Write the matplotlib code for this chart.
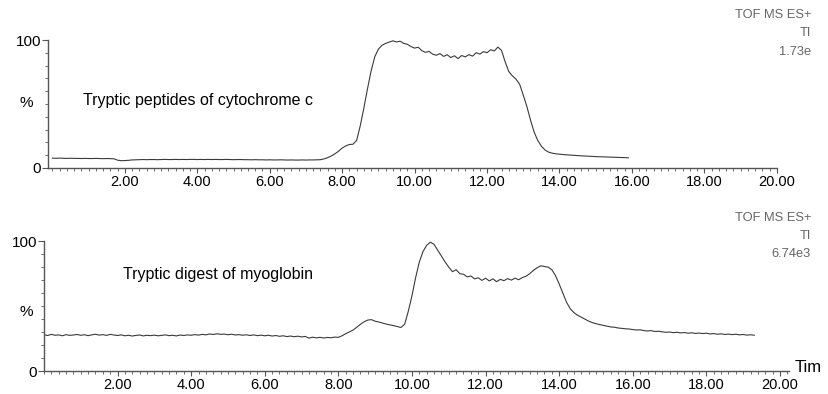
import matplotlib.pyplot as plt
import numpy as np
from matplotlib.ticker import MultipleLocator, FixedLocator

plt.rcParams['font.family'] = ['Liberation Sans', 'DejaVu Sans']

# cytochrome c trace, % of max, one value every 0.1 min from 0.0
cyt_pct = [
    7.6, 7.5, 7.6, 7.5, 7.4, 7.5, 7.4, 7.4, 7.3, 7.4, 7.3, 7.3, 7.4, 7.3, 7.2, 7.3, 7.2, 7.1,
    6.0, 5.6, 5.7, 5.9, 6.2, 6.3,
    6.4, 6.5, 6.4, 6.5, 6.5, 6.4, 6.5, 6.6, 6.5, 6.5,
    6.6, 6.5, 6.6, 6.5, 6.6, 6.6, 6.5, 6.6, 6.5, 6.6,
    6.5, 6.6, 6.5, 6.5, 6.6, 6.5, 6.4, 6.5, 6.5, 6.4,
    6.4, 6.3, 6.4, 6.3, 6.3, 6.2, 6.3, 6.2, 6.2, 6.3,
    6.2, 6.1, 6.2, 6.1, 6.1, 6.2, 6.1, 6.2, 6.2, 6.3,
    6.4, 7.0, 8.0, 9.3, 11.0, 13.0,
    15.5, 17.2, 18.3, 18.5, 21.5, 33.0, 47.0, 62.0, 76.0, 87.0,
    93.0, 96.0, 97.5, 98.5, 99.5, 98.6, 99.2, 97.5, 96.8, 95.0,
    93.8, 94.5, 91.8, 90.5, 91.2, 89.0, 88.2, 89.5, 87.3, 88.6,
    86.4, 87.8, 85.6, 88.0, 86.9, 88.7, 87.5, 90.2, 89.1, 91.0,
    90.2, 92.5, 91.6, 94.6, 92.0, 83.0, 75.5, 72.0, 69.5, 65.5,
    57.0, 48.0, 37.5, 28.0, 21.5, 17.0, 14.0, 12.3, 11.5, 11.0,
    10.7, 10.4, 10.2, 10.0, 9.8, 9.6, 9.4, 9.3, 9.1, 9.0,
    8.8, 8.7, 8.6, 8.5, 8.4, 8.3, 8.2, 8.1, 8.0, 7.9,
]

# myoglobin trace, % of max, one value every 0.1 min from 0.0
myo_pct = [
    28.0, 27.4, 28.3, 27.6, 27.9, 27.2, 28.1, 27.5, 27.8, 28.2,
    27.6, 28.0, 27.3, 27.9, 28.4, 27.7, 28.1, 27.5, 28.3, 27.8,
    27.4, 27.9, 27.2, 27.6, 27.0, 27.5, 27.8, 27.1, 27.6, 27.3,
    27.7, 27.2, 27.5, 27.9, 27.3, 27.6, 27.1, 27.8, 27.4, 27.9,
    27.6, 28.1, 27.7, 28.3, 27.9, 28.6, 28.2, 28.8, 28.3, 28.5,
    28.0, 28.4, 27.8, 28.1, 27.6, 28.0, 27.4, 27.9, 27.3, 27.7,
    27.2, 27.6, 27.0, 27.4, 26.8, 27.2, 26.6, 27.0, 26.5, 26.9,
    26.3, 26.7, 25.4, 26.1, 25.6, 26.0, 25.5, 25.9, 25.7, 26.2,
    26.0, 27.2, 28.8, 30.2, 31.6, 33.8, 36.0, 38.0, 39.3, 39.6,
    38.4, 37.8, 37.0, 36.2, 35.6, 35.0, 34.3, 33.6, 36.0, 46.0,
    58.0, 72.0, 84.0, 92.0, 96.8, 99.2, 97.5, 93.0, 88.5, 84.0,
    80.0, 76.5, 78.0, 75.0, 74.5, 72.5, 73.2, 71.0, 71.8, 69.8,
    71.5, 69.4, 71.0, 68.8, 70.6, 69.6, 71.2, 70.0, 71.5, 70.3,
    72.0, 73.0, 75.0, 77.5, 79.5, 81.0, 80.5, 80.0, 78.0, 73.5,
    67.0, 60.0, 53.0, 48.0, 45.0, 43.0, 41.5, 40.0, 38.5, 37.3,
    36.5, 35.8, 35.2, 34.6, 34.0, 33.8, 33.2, 32.9, 32.6, 32.4,
    32.0, 31.6, 31.8, 31.2, 30.9, 31.2, 30.5, 30.7, 30.2, 29.9,
    30.1, 29.6, 29.9, 29.4, 29.7, 29.2, 29.5, 29.0, 29.3, 28.9,
    29.2, 28.6, 28.9, 28.4, 28.7, 28.2, 28.5, 28.1, 28.4, 27.9,
    28.2, 27.7, 28.0, 27.6,
]

cyt_time = np.arange(len(cyt_pct)) * 0.1
myo_time = np.arange(len(myo_pct)) * 0.1

x_ticks = [2, 4, 6, 8, 10, 12, 14, 16, 18, 20]
x_labels = ["2.00", "4.00", "6.00", "8.00", "10.00", "12.00", "14.00", "16.00", "18.00", "20.00"]

titles = ["Tryptic peptides of cytochrome c", "Tryptic digest of myoglobin"]
header = [["TOF MS ES+", "TI", "1.73e"], ["TOF MS ES+", "TI", "6.74e3"]]

LINE = "#3a3a3a"
AXIS = "#555555"
GREY = "#666666"

fig = plt.figure(figsize=(8.29, 3.94), dpi=100)
ax1 = fig.add_axes([0.058, 0.574, 0.879, 0.324])
ax2 = fig.add_axes([0.053, 0.058, 0.899, 0.330])

panels = [
    (ax1, cyt_time, cyt_pct, (-0.12, 20.0)),
    (ax2, myo_time, myo_pct, (0.0, 20.25)),
]

for ax, t, y, xl in panels:
    ax.plot(t, y, color=LINE, lw=0.8)
    ax.set_xlim(*xl)
    ax.set_ylim(0, 100)
    for s in ("top", "right"):
        ax.spines[s].set_visible(False)
    for s in ("left", "bottom"):
        ax.spines[s].set_color(AXIS)
        ax.spines[s].set_linewidth(1.0)
    ax.xaxis.set_major_locator(FixedLocator(x_ticks))
    ax.set_xticklabels(x_labels)
    ax.xaxis.set_minor_locator(MultipleLocator(0.2))
    ax.yaxis.set_major_locator(FixedLocator([0, 100]))
    ax.yaxis.set_minor_locator(MultipleLocator(10))
    ax.tick_params(axis="x", which="major", length=3.5, width=0.8, color=AXIS,
                   labelsize=10.5, pad=1.5)
    ax.tick_params(axis="x", which="minor", length=2, width=0.6, color=AXIS)
    ax.tick_params(axis="y", which="major", length=4, width=0.8, color=AXIS,
                   labelsize=11, pad=1)
    ax.tick_params(axis="y", which="minor", length=2, width=0.6, color=AXIS)

# percent signs and panel captions
fig.text(20 / 829, 1 - 103 / 394, "%", fontsize=11, ha="left", va="center")
fig.text(20 / 829, 1 - 312 / 394, "%", fontsize=11, ha="left", va="center")
fig.text(83 / 829, 1 - 100 / 394, titles[0], fontsize=11.5, ha="left", va="center")
fig.text(123 / 829, 1 - 275 / 394, titles[1], fontsize=11.5, ha="left", va="center")

# instrument header lines
for ys, lines in zip([(15, 33, 52), (218, 236, 254)], header):
    for yy, txt in zip(ys, lines):
        fig.text(811 / 829, 1 - yy / 394, txt, fontsize=9.3, color=GREY,
                 ha="right", va="center")

fig.text(795 / 829, 1 - 368 / 394, "Tim", fontsize=12, ha="left", va="center")

fig.savefig("out.png", dpi=100)
